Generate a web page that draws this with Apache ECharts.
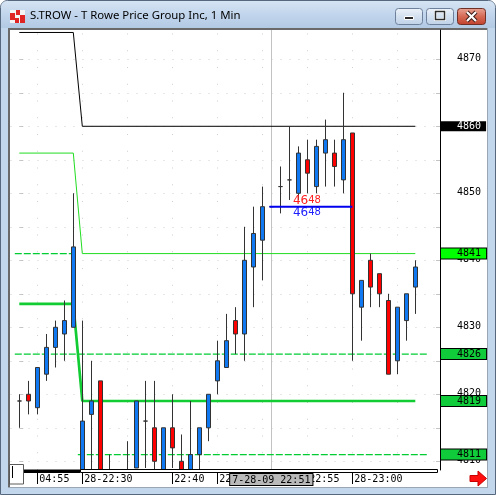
<!DOCTYPE html>
<html>
<head>
<meta charset="utf-8">
<script src="https://cdn.jsdelivr.net/npm/echarts@6/dist/echarts.min.js"></script>
<style>
  html, body { margin: 0; padding: 0; background: #fff; }
  #c { width: 496px; height: 495px; }
</style>
</head>
<body>
<div id="c"></div>
<script>
// ---- 1-minute bars (index 0 = first bar on screen) ----
const opens  = [4819,4820,4818,4823,4827,4829,4830, 4806,4817,4822,4806,4806,4807,4809,4816,4815,4807,4815,4810,4807,4811,4815,4822,4824,4831,4829,4839,4843,4848,4851,4852,4850,4855,4851,4856,4856,4852,4859,4833,4840,4838,4834,4825,4831,4836];
const closes = [4819,4819,4824,4827,4830,4831,4842, 4816,4819,4806,4805,4805,4806,4819,4816,4810,4815,4812,4807,4811,4815,4820,4825,4828,4829,4840,4844,4848,4848,4851,4852,4856,4853,4857,4858,4854,4858,4835,4837,4836,4835,4823,4833,4835,4839];
const lows   = [4815,4817,4817,4822,4824,4825,4830, 4805,4806,4804,4803,4803,4804,4809,4809,4808,4806,4809,4806,4806,4808,4813,4820,4824,4826,4825,4833,4837,4848,4847,4849,4849,4850,4850,4851,4851,4850,4825,4828,4833,4833,4823,4823,4828,4832];
const highs  = [4820,4822,4824,4829,4831,4834,4850, 4831,4825,4822,4811,4808,4813,4819,4822,4822,4815,4820,4814,4819,4815,4820,4828,4832,4833,4845,4848,4851,4848,4854,4860,4857,4858,4858,4861,4858,4865,4859,4837,4841,4838,4835,4833,4835,4840];

// first bar of the new session
const sessionStart = 7;

// level lines: [previous session, current session]
const resistLevel = [4874, 4860];     // black
const pivotLevel  = [4856, 4841];     // thin green
const midLevel    = [4833.5, 4819];   // thick green
const bandHigh    = [4841, 4826];     // dashed green (upper)
const bandLow     = [4826, 4811];     // dashed green (lower)

// blue marker line
const markLevel = 4848;
const markFrom = 27.8, markTo = 37;
const markText = ['46', '48'];

// time axis
const timeIdx  = [2, 7, 17, 22, 32, 37];
const timeText = ['04:55', '28-22:30', '22:40', '22:45', '22:55', '28-23:00'];
const cursorIdx = 28;
const cursorText = '7-28-09 22:51';

// price axis
const priceMin = 4808.70, priceMax = 4874.37;
const priceTicks = [4810, 4820, 4830, 4840, 4850, 4870];
const minorTicks = [4810, 4815, 4820, 4825, 4830, 4835, 4840, 4845, 4850, 4855, 4860, 4865, 4870];
const gridCols   = [2, 7, 12, 17, 22, 27, 32, 37, 42];

const lastIdx = opens.length - 1;
// the visible window cuts bars off at the bottom of the price range
const inView = v => Math.min(priceMax, Math.max(priceMin, v));
const candles = opens.map((o, i) => [i, inView(o), inView(closes[i]), inView(lows[i]), inView(highs[i])]);

function stepLine(lv) {
  return [[0, lv[0]], [sessionStart - 1, lv[0]], [sessionStart, lv[1]], [lastIdx, lv[1]]];
}
function oldSeg(lv) { return [[-0.5, lv[0]], [sessionStart - 0.5, lv[0]]]; }
function newSeg(lv) { return [[sessionStart - 0.5, lv[1]], [lastIdx + 1.5, lv[1]]]; }

// boxed levels on the price scale
const boxes = {};
boxes[resistLevel[1]] = 'k';
boxes[pivotLevel[1]]  = 'b';
boxes[bandHigh[1]]    = 'g';
boxes[midLevel[1]]    = 'g';
boxes[bandLow[1]]     = 'g';

const MONO = 'DejaVu Sans Mono';
const GREEN = '#00cc33';

const chart = echarts.init(document.getElementById('c'), null, { renderer: 'canvas', width: 496, height: 495 });

const boxBase = { fontFamily: MONO, fontSize: 10, lineHeight: 8, padding: [0, 5, 0, 16] };
const markRich = col => ({
  a: { fontSize: 12, fontFamily: 'DejaVu Sans', color: col },
  b: { fontSize: 10, fontFamily: 'DejaVu Sans', color: col }
});

const option = {
  animation: false,
  backgroundColor: 'transparent',
  grid: { left: 10.5, top: 30, width: 429.5, height: 440, containLabel: false, show: false },
  xAxis: {
    type: 'value',
    min: -0.9778,
    max: 46.744,
    axisLine: { show: false },
    splitLine: { show: false },
    axisTick: {
      show: true, inside: false, length: 14, customValues: timeIdx,
      lineStyle: { color: '#000', width: 1 }
    },
    axisLabel: {
      show: true, customValues: timeIdx, align: 'left', margin: 4, padding: [0, 0, 0, 2],
      fontFamily: MONO, fontSize: 10, color: '#000',
      formatter: v => timeText[timeIdx.indexOf(Math.round(v))] || ''
    }
  },
  yAxis: [{
    type: 'value',
    position: 'right',
    min: priceMin,
    max: priceMax,
    axisLine: { show: true, onZero: false, lineStyle: { color: '#000', width: 1 } },
    splitLine: { show: false },
    axisTick: { show: true, inside: true, length: 4, customValues: minorTicks, lineStyle: { color: '#c4c4c4' } },
    axisLabel: {
      show: true, margin: 1,
      customValues: priceTicks.filter(v => v !== resistLevel[1]).concat(Object.keys(boxes).map(Number)),
      formatter: v => {
        const t = boxes[v];
        return t ? '{' + t + '|' + v + '}' : '{n|' + v + '}';
      },
      rich: {
        n: { fontFamily: MONO, fontSize: 10, color: '#000', padding: [0, 0, 2, 16] },
        k: Object.assign({}, boxBase, { backgroundColor: '#000', color: '#fff' }),
        b: Object.assign({}, boxBase, { backgroundColor: '#00ff00', color: '#000', borderColor: '#000', borderWidth: 1 }),
        g: Object.assign({}, boxBase, { backgroundColor: '#11cc3a', color: '#000', borderColor: '#000', borderWidth: 1 })
      }
    }
  }, {
    type: 'value',
    position: 'left',
    min: priceMin,
    max: priceMax,
    axisLine: { show: false },
    splitLine: { show: false },
    axisTick: { show: true, inside: true, length: 4, customValues: minorTicks, lineStyle: { color: '#c4c4c4' } },
    axisLabel: { show: false }
  }],
  series: [
    // dotted background grid
    {
      type: 'line', data: [], z: 1, silent: true,
      markLine: {
        silent: true, z: 1, symbol: ['none', 'none'], label: { show: false },
        lineStyle: { color: '#cfcfcf', width: 1, type: [1, 8] },
        data: minorTicks.map(v => ({ yAxis: v }))
          .concat(gridCols.map(k => ({ xAxis: k, lineStyle: { color: '#cfcfcf', width: 1, type: [1, 15.75] } })))
      }
    },
    // cursor line with its time stamp
    {
      type: 'line', data: [], z: 1, silent: true,
      markLine: {
        silent: true, z: 1, symbol: ['none', 'none'],
        lineStyle: { color: '#c2c2c2', width: 1, type: 'solid' },
        label: {
          show: true, position: 'start', distance: 4, formatter: cursorText,
          fontFamily: MONO, fontSize: 10, color: '#000',
          backgroundColor: '#b9b9b9', borderColor: '#000', borderWidth: 1, padding: [1, 2, 0, 2], lineHeight: 10
        },
        data: [{ xAxis: cursorIdx }]
      }
    },
    // dashed bands
    { type: 'line', data: oldSeg(bandHigh), symbol: 'none', z: 3, lineStyle: { color: GREEN, width: 1.3, type: [7, 2] } },
    { type: 'line', data: newSeg(bandHigh), symbol: 'none', z: 3, lineStyle: { color: GREEN, width: 1.3, type: [7, 2] } },
    { type: 'line', data: oldSeg(bandLow),  symbol: 'none', z: 3, lineStyle: { color: GREEN, width: 1.3, type: [7, 2] } },
    { type: 'line', data: newSeg(bandLow),  symbol: 'none', z: 3, lineStyle: { color: GREEN, width: 1.3, type: [7, 2] } },
    // step levels
    { type: 'line', data: stepLine(resistLevel), symbol: 'none', z: 3, lineStyle: { color: '#000', width: 1 } },
    { type: 'line', data: stepLine(pivotLevel),  symbol: 'none', z: 3, lineStyle: { color: '#22dd22', width: 1 } },
    { type: 'line', data: stepLine(midLevel),    symbol: 'none', z: 3, lineStyle: { color: '#11cc33', width: 2.7 } },
    // blue marker line with its labels
    {
      type: 'line', data: [[markFrom, markLevel], [markTo, markLevel]], symbol: 'none', z: 5,
      lineStyle: { color: '#0000ee', width: 2 },
      markPoint: {
        symbol: 'circle', symbolSize: 0, silent: true,
        data: [
          { coord: [30.4, markLevel], label: { show: true, position: 'inside', align: 'left', offset: [0, -6],
            formatter: '{a|' + markText[0] + '}{b|' + markText[1] + '}', rich: markRich('#ff2020') } },
          { coord: [30.4, markLevel], label: { show: true, position: 'inside', align: 'left', offset: [0, 6],
            formatter: '{a|' + markText[0] + '}{b|' + markText[1] + '}', rich: markRich('#2020ff') } }
        ]
      }
    },
    // candles
    {
      type: 'candlestick', z: 4, clip: true,
      data: candles,
      encode: { x: 0, y: [1, 2, 3, 4] },
      barWidth: 5,
      itemStyle: {
        color: '#1078f0', color0: '#ff0000',
        borderColor: '#333', borderColor0: '#333', borderColorDoji: '#333',
        borderWidth: 1
      }
    }
  ],
  graphic: [
    // window frame and title bar
    { type: 'rect', z: -20, shape: { x: 0.5, y: 0.5, width: 495, height: 494, r: [7, 7, 0, 0] },
      style: { fill: '#c2d6ec', stroke: '#56687d', lineWidth: 1 } },
    { type: 'rect', z: -19, shape: { x: 1, y: 1, width: 494, height: 27, r: [6, 6, 0, 0] },
      style: { fill: new echarts.graphic.LinearGradient(0, 0, 0, 1, [{ offset: 0, color: '#d6e4f3' }, { offset: 0.5, color: '#c1d5ec' }, { offset: 1, color: '#b3cae4' }]) } },
    { type: 'rect', z: -18, shape: { x: 8, y: 28, width: 480, height: 459 }, style: { fill: '#ffffff' } },
    { type: 'line', z: -17, shape: { x1: 8, y1: 29, x2: 488, y2: 29 }, style: { stroke: '#6a6a6a', lineWidth: 2 } },
    { type: 'line', z: -17, shape: { x1: 9, y1: 28, x2: 9, y2: 487 }, style: { stroke: '#6a6a6a', lineWidth: 2 } },
    { type: 'line', z: -17, shape: { x1: 487.5, y1: 28, x2: 487.5, y2: 487 }, style: { stroke: '#9aa6b4', lineWidth: 1 } },
    { type: 'line', z: -17, shape: { x1: 8, y1: 487.5, x2: 488, y2: 487.5 }, style: { stroke: '#9aa6b4', lineWidth: 1 } },
    // title icon
    { type: 'rect', z: 20, shape: { x: 10, y: 10, width: 15, height: 13 }, style: { fill: '#f4f4f4' } },
    { type: 'rect', z: 21, shape: { x: 10, y: 13, width: 5, height: 7 }, style: { fill: '#e02424' } },
    { type: 'rect', z: 21, shape: { x: 16, y: 10, width: 4, height: 5 }, style: { fill: '#e02424' } },
    { type: 'rect', z: 21, shape: { x: 20, y: 15, width: 5, height: 8 }, style: { fill: '#e02424' } },
    { type: 'rect', z: 21, shape: { x: 15, y: 18, width: 4, height: 5 }, style: { fill: '#e02424' } },
    { type: 'text', z: 21, style: { x: 30, y: 16, text: 'S.TROW - T Rowe Price Group Inc, 1 Min', fill: '#000',
      font: '11.4px "Noto Sans"', textVerticalAlign: 'middle' } },
    // caption buttons
    { type: 'rect', z: 20, shape: { x: 395.5, y: 8.5, width: 27, height: 16, r: 3 },
      style: { fill: new echarts.graphic.LinearGradient(0, 0, 0, 1, [{ offset: 0, color: '#eef3fa' }, { offset: 0.5, color: '#d3e0ef' }, { offset: 1, color: '#c0d2e8' }]), stroke: '#6d819c', lineWidth: 1 } },
    { type: 'rect', z: 21, shape: { x: 404.5, y: 16.5, width: 9, height: 3 }, style: { fill: '#2b2b2b', stroke: '#fff', lineWidth: 1 } },
    { type: 'rect', z: 20, shape: { x: 426.5, y: 8.5, width: 27, height: 16, r: 3 },
      style: { fill: new echarts.graphic.LinearGradient(0, 0, 0, 1, [{ offset: 0, color: '#eef3fa' }, { offset: 0.5, color: '#d3e0ef' }, { offset: 1, color: '#c0d2e8' }]), stroke: '#6d819c', lineWidth: 1 } },
    { type: 'rect', z: 21, shape: { x: 435.5, y: 11.5, width: 9, height: 8 }, style: { fill: 'none', stroke: '#fff', lineWidth: 3 } },
    { type: 'rect', z: 22, shape: { x: 435.5, y: 11.5, width: 9, height: 8 }, style: { fill: 'none', stroke: '#2b2b2b', lineWidth: 1.5 } },
    { type: 'rect', z: 20, shape: { x: 457.5, y: 8.5, width: 28, height: 16, r: 3 },
      style: { fill: new echarts.graphic.LinearGradient(0, 0, 0, 1, [{ offset: 0, color: '#e9a596' }, { offset: 0.5, color: '#d56a55' }, { offset: 1, color: '#c0412c' }]), stroke: '#6e3027', lineWidth: 1 } },
    { type: 'polyline', z: 21, shape: { points: [[467, 12], [476, 21]] }, style: { stroke: '#3a1a16', lineWidth: 4 } },
    { type: 'polyline', z: 21, shape: { points: [[476, 12], [467, 21]] }, style: { stroke: '#3a1a16', lineWidth: 4 } },
    { type: 'polyline', z: 22, shape: { points: [[467, 12], [476, 21]] }, style: { stroke: '#fff', lineWidth: 2.2 } },
    { type: 'polyline', z: 22, shape: { points: [[476, 12], [467, 21]] }, style: { stroke: '#fff', lineWidth: 2.2 } },
    // bottom scroller
    { type: 'rect', z: 30, shape: { x: 23, y: 469.5, width: 57, height: 3.5 }, style: { fill: '#000' } },
    { type: 'rect', z: 30, shape: { x: 80.5, y: 469.5, width: 357, height: 3 }, style: { fill: '#fff', stroke: '#000', lineWidth: 1 } },
    { type: 'rect', z: 30, shape: { x: 9.5, y: 464.5, width: 14, height: 19.5 }, style: { fill: '#fff', stroke: '#5a5a5a', lineWidth: 1 } },
    { type: 'line', z: 31, shape: { x1: 12.5, y1: 466, x2: 12.5, y2: 478 }, style: { stroke: '#000', lineWidth: 1 } },
    // scroll-to-end arrow
    { type: 'polygon', z: 30, shape: { points: [[470, 475.5], [478, 475.5], [478, 471], [486.5, 478.5], [478, 486], [478, 481.5], [470, 481.5]] },
      style: { fill: '#ff1010', stroke: '#c80000', lineWidth: 1 } }
  ]
};

chart.setOption(option);
</script>
</body>
</html>
